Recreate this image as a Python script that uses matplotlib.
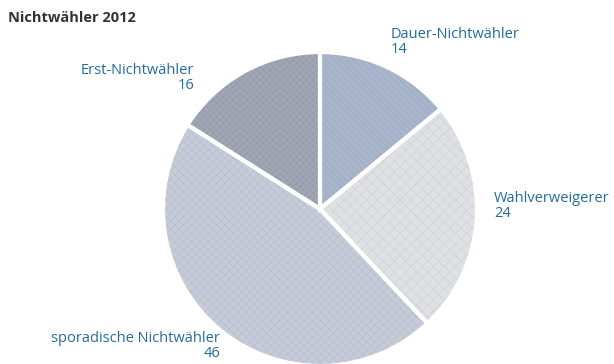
import matplotlib
matplotlib.use("Agg")
import matplotlib.pyplot as plt

plt.rcParams['font.family'] = ['Open Sans', 'DejaVu Sans']
plt.rcParams['hatch.linewidth'] = 0.3

title = "Nichtwähler 2012"
labels = ["Dauer-Nichtwähler", "Wahlverweigerer", "sporadische Nichtwähler", "Erst-Nichtwähler"]
values = [14, 24, 46, 16]
colors = ["#a8b5cb", "#dfe0e3", "#c6cbd8", "#a0a6b3"]
hatch_colors = ["#93a2bb", "#c8cacf", "#b1b7c7", "#8c93a1"]
hatches = ["\\\\\\\\\\", "xxx", "xxxx", "xxxxx"]

W, H = 614, 364
cx, cy, r = 320, 209, 157

fig = plt.figure(figsize=(W / 100, H / 100), dpi=100)
ax = fig.add_axes([0, 0, 1, 1])

# textured wedges
wedges, _ = ax.pie(values, colors=colors, startangle=90, counterclock=False,
                   wedgeprops=dict(linewidth=0))
for w, h, hc in zip(wedges, hatches, hatch_colors):
    w.set_hatch(h)
    w.set_edgecolor(hc)
    w.set_linewidth(0)

# white separators on top
ax.pie(values, colors=["none"] * 4, startangle=90, counterclock=False,
       wedgeprops=dict(linewidth=3, edgecolor="white", fill=False))
ax.set_xlim(-cx / r, (W - cx) / r)
ax.set_ylim(-(H - cy) / r, cy / r)
ax.set_aspect('equal')
ax.axis('off')

def px(x, y):
    return ((x - cx) / r, (cy - y) / r)

blue = "#226c9c"
fs = 10.5
label_pos = [(391, 42, 'left'), (494, 206, 'left'), (220, 346, 'right'), (194, 78, 'right')]
for lab, val, (x, y, ha) in zip(labels, values, label_pos):
    ax.text(*px(x, y), f"{lab}\n{val}", ha=ha, va='center', color=blue,
            fontsize=fs, linespacing=0.95, multialignment=ha)

fig.text(8 / W, 1 - 18 / H, title, ha='left', va='center', fontsize=fs,
         fontweight='bold', color="#333333")

fig.savefig("out.png", dpi=100)
